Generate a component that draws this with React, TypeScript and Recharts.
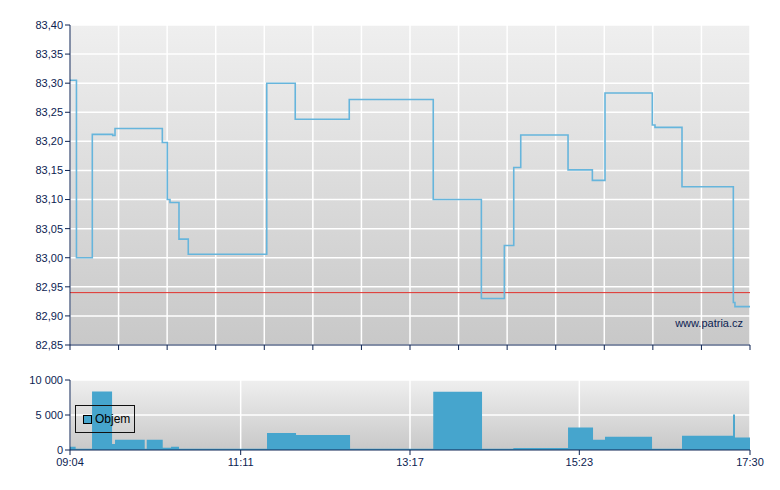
import React from "react";
import {
  ComposedChart,
  Line,
  Area,
  XAxis,
  YAxis,
  CartesianGrid,
  ReferenceLine,
  Legend,
} from "recharts";

// minutes after 09:04
const priceTimes = [0, 4.8, 16.6, 31.8, 33.5, 68.7, 72.4, 74.4, 81.1, 88.0, 146.4, 167.6, 207.8, 270.3, 306.1, 323.2, 330.2, 335.4, 370.6, 388.7, 398.1, 433.3, 435.3, 455.4, 493.6, 494.8, 506];
const prices = [83.305, 83.0, 83.212, 83.21, 83.222, 83.198, 83.1, 83.095, 83.032, 83.006, 83.3, 83.238, 83.272, 83.1, 82.93, 83.021, 83.155, 83.211, 83.151, 83.133, 83.283, 83.228, 83.224, 83.122, 82.923, 82.916, 82.916];

const volumeTimes = [0, 4.2, 16.4, 31.3, 33.5, 55.6, 57.1, 69.0, 75.2, 81.1, 146.6, 168.2, 208.4, 270.3, 306.6, 329.9, 370.6, 389.2, 398.1, 433.1, 455.4, 493.4, 494.8, 506];
const volumes = [470, 170, 8370, 860, 1480, 170, 1480, 330, 470, 170, 2440, 2150, 170, 8320, 170, 290, 3200, 1480, 1910, 190, 2050, 5060, 1770, 1770];

const timeLabels = ["09:04", "11:11", "13:17", "15:23", "17:30"];
const priceTicks = [82.85, 82.9, 82.95, 83.0, 83.05, 83.1, 83.15, 83.2, 83.25, 83.3, 83.35, 83.4];
const volumeTicks = [0, 5000, 10000];
const prevClose = 82.94;

const toMin = (s: string) => {
  const [h, m] = s.split(":").map(Number);
  return h * 60 + m - 544;
};
const labelTicks = timeLabels.map(toMin);
const minorTicks = Array.from({ length: 15 }, (_, i) => (i * 506) / 14);

const priceData = priceTimes.map((t, i) => ({ t, price: prices[i] }));
const volumeData = volumeTimes.map((t, i) => ({ t, volume: volumes[i] }));

const NAVY = "#0c2352";
const font = { fontSize: 11, fill: NAVY, fontFamily: "Liberation Sans, Arial, sans-serif" };

const fmtPrice = (v: number) => v.toFixed(2).replace(".", ",");
const fmtVol = (v: number) => String(v).replace(/\B(?=(\d{3})+(?!\d))/g, " ");

const ObjemLegend = () => (
  <div
    style={{
      width: 58,
      height: 26,
      border: "1px solid #111",
      display: "flex",
      alignItems: "center",
      fontFamily: "Liberation Sans, Arial, sans-serif",
      fontSize: 12,
      color: "#000",
    }}
  >
    <span
      style={{
        display: "inline-block",
        width: 7,
        height: 7,
        background: "#46a5cd",
        border: "1px solid #000",
        marginLeft: 7,
        marginRight: 3,
      }}
    />
    Objem
  </div>
);

export default function App() {
  return (
    <div style={{ position: "absolute", left: 0, top: 0, width: 780, height: 490, background: "#fff" }}>
      <div style={{ position: "absolute", left: 0, top: 0 }}>
        <ComposedChart width={780} height={360} data={priceData} margin={{ top: 25, right: 30, left: 8, bottom: 0 }}>
          <defs>
            <linearGradient id="bgMain" x1="0" y1="0" x2="0" y2="1">
              <stop offset="0%" stopColor="#efefef" />
              <stop offset="100%" stopColor="#c8c8c8" />
            </linearGradient>
          </defs>
          <CartesianGrid stroke="#ffffff" strokeWidth={1.5} fill="url(#bgMain)" fillOpacity={1} />
          <XAxis
            dataKey="t"
            type="number"
            domain={[0, 506]}
            ticks={minorTicks}
            tickFormatter={() => ""}
            height={15}
            tickSize={5}
            stroke={NAVY}
            axisLine={{ stroke: NAVY }}
            tickLine={{ stroke: NAVY }}
          />
          <YAxis
            type="number"
            domain={[82.85, 83.4]}
            ticks={priceTicks}
            tickFormatter={fmtPrice}
            width={62}
            tickSize={5}
            tickMargin={2}
            tick={font}
            axisLine={{ stroke: NAVY }}
            tickLine={{ stroke: NAVY }}
            allowDataOverflow
          />
          <ReferenceLine y={prevClose} stroke="#e2302c" strokeWidth={1} />
          <Line
            type="stepAfter"
            dataKey="price"
            stroke="#66b5dc"
            strokeWidth={1.6}
            dot={false}
            isAnimationActive={false}
          />
          <text x={743} y={327} textAnchor="end" fontSize={11} fill={NAVY} fontFamily="Liberation Sans, Arial, sans-serif">
            www.patria.cz
          </text>
        </ComposedChart>
      </div>
      <div style={{ position: "absolute", left: 0, top: 355 }}>
        <ComposedChart width={780} height={135} data={volumeData} margin={{ top: 25, right: 30, left: 8, bottom: 0 }}>
          <defs>
            <linearGradient id="bgVol" x1="0" y1="0" x2="0" y2="1">
              <stop offset="0%" stopColor="#efefef" />
              <stop offset="100%" stopColor="#c8c8c8" />
            </linearGradient>
          </defs>
          <CartesianGrid stroke="#ffffff" strokeWidth={1.5} fill="url(#bgVol)" fillOpacity={1} />
          <XAxis
            dataKey="t"
            type="number"
            domain={[0, 506]}
            ticks={labelTicks}
            tickFormatter={(v: number) => timeLabels[labelTicks.indexOf(v)] ?? ""}
            height={40}
            tickSize={5}
            tickMargin={3}
            tick={font}
            axisLine={{ stroke: NAVY }}
            tickLine={{ stroke: NAVY }}
          />
          <YAxis
            type="number"
            domain={[0, 10000]}
            ticks={volumeTicks}
            tickFormatter={fmtVol}
            width={62}
            tickSize={5}
            tickMargin={2}
            tick={font}
            axisLine={{ stroke: NAVY }}
            tickLine={{ stroke: NAVY }}
          />
          <Area
            type="stepAfter"
            dataKey="volume"
            name="Objem"
            stroke="none"
            fill="#46a5cd"
            fillOpacity={1}
            isAnimationActive={false}
          />
          <Legend
            layout="horizontal"
            verticalAlign="middle"
            align="center"
            content={() => <ObjemLegend />}
            wrapperStyle={{ left: 75, top: 50, width: 60, height: 28 }}
          />
        </ComposedChart>
      </div>
    </div>
  );
}
